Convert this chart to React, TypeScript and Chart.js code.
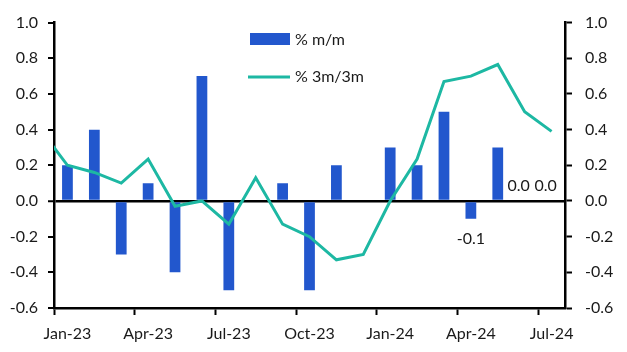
import React, { useEffect, useRef } from 'react';
import { Chart, registerables } from 'chart.js';

Chart.register(...registerables);

// Dec-22 is only used so the 3m/3m line enters from the left edge (clipped)
const months = [
  'Dec-22',
  'Jan-23', 'Feb-23', 'Mar-23', 'Apr-23', 'May-23', 'Jun-23', 'Jul-23', 'Aug-23', 'Sep-23', 'Oct-23', 'Nov-23', 'Dec-23',
  'Jan-24', 'Feb-24', 'Mar-24', 'Apr-24', 'May-24', 'Jun-24', 'Jul-24',
];
const momValues = [
  null,
  0.2, 0.4, -0.3, 0.1, -0.4, 0.7, -0.5, 0.0, 0.1, -0.5, 0.2, 0.0,
  0.3, 0.2, 0.5, -0.1, 0.3, 0.0, 0.0,
];
const threeMValues = [
  0.4,
  0.2, 0.16, 0.1, 0.235, -0.03, 0.0, -0.13, 0.13, -0.13, -0.2, -0.33, -0.3,
  0.0, 0.235, 0.67, 0.7, 0.765, 0.5, 0.39,
];
const labelledMonths = ['Apr-24', 'Jun-24', 'Jul-24'];
const quarterPrefixes = ['Jan', 'Apr', 'Jul', 'Oct'];

const BAR_COLOR = '#2257CD';
const LINE_COLOR = '#1DB8A3';
const TEXT_COLOR = '#1a1a1a';
const FONT = '16px Lato';

const legendPlugin = {
  id: 'customLegend',
  afterDraw(chart: any) {
    const ctx = chart.ctx;
    const ds = chart.data.datasets;
    const bar = ds.find((d: any) => d.type === 'bar');
    const line = ds.find((d: any) => d.type === 'line');
    ctx.save();
    ctx.font = FONT;
    ctx.fillStyle = TEXT_COLOR;
    ctx.textBaseline = 'middle';
    ctx.textAlign = 'left';
    // bar item
    ctx.fillStyle = bar.backgroundColor;
    ctx.fillRect(250, 33, 40, 12);
    ctx.fillStyle = TEXT_COLOR;
    ctx.fillText(bar.label, 295, 40);
    // line item
    ctx.strokeStyle = line.borderColor;
    ctx.lineWidth = 3;
    ctx.beginPath();
    ctx.moveTo(248, 77);
    ctx.lineTo(290, 77);
    ctx.stroke();
    ctx.fillText(line.label, 295, 77);
    ctx.restore();
  },
};

const valueLabelPlugin = {
  id: 'valueLabels',
  afterDatasetsDraw(chart: any) {
    const ctx = chart.ctx;
    const idx = chart.data.datasets.findIndex((d: any) => d.type === 'bar');
    const meta = chart.getDatasetMeta(idx);
    const yScale = chart.scales.y;
    ctx.save();
    ctx.font = FONT;
    ctx.fillStyle = TEXT_COLOR;
    ctx.textAlign = 'center';
    ctx.textBaseline = 'middle';
    labelledMonths.forEach((m) => {
      const i = months.indexOf(m);
      const v = momValues[i] as number;
      const el = meta.data[i];
      if (!el) return;
      const yEnd = yScale.getPixelForValue(v);
      if (v < 0) {
        ctx.fillText(v.toFixed(1), el.x, yEnd + 20);
      } else {
        ctx.fillText(v.toFixed(1), el.x - 6, yEnd - 15.5);
      }
    });
    ctx.restore();
  },
};

const isZero = (v: number) => Math.abs(v) < 1e-9;

export default function App() {
  const canvasRef = useRef<HTMLCanvasElement | null>(null);

  useEffect(() => {
    const canvas = canvasRef.current;
    if (!canvas) return;
    const chart = new Chart(canvas, {
      data: {
        labels: months,
        datasets: [
          {
            type: 'line',
            label: '% 3m/3m',
            data: threeMValues,
            borderColor: LINE_COLOR,
            backgroundColor: LINE_COLOR,
            borderWidth: 3,
            pointRadius: 0,
            tension: 0,
            order: 1,
            clip: 0,
          } as any,
          {
            type: 'bar',
            label: '% m/m',
            data: momValues,
            backgroundColor: BAR_COLOR,
            borderWidth: 0,
            barPercentage: 1,
            categoryPercentage: 0.4,
            order: 2,
          } as any,
        ],
      },
      options: {
        responsive: false,
        animation: false,
        layout: { padding: { top: 15, left: 0, right: 0, bottom: 0 } },
        plugins: {
          legend: { display: false },
          tooltip: { enabled: false },
        },
        scales: {
          x: {
            type: 'category',
            min: 'Jan-23',
            offset: true,
            grid: {
              offset: true,
              drawOnChartArea: false,
              drawTicks: true,
              tickLength: 7,
              tickWidth: 2,
              tickColor: (c: any) => (c.tick && c.index % 3 === 0 ? '#000' : 'rgba(0,0,0,0)'),
            },
            border: { color: '#000', width: 2.5 },
            ticks: {
              autoSkip: false,
              maxRotation: 0,
              minRotation: 0,
              padding: 9,
              color: TEXT_COLOR,
              font: { family: 'Lato', size: 16 },
              callback: (v: any) => {
                const l = months[v];
                return quarterPrefixes.some((p) => l.startsWith(p)) ? l : '';
              },
            },
            afterFit: (s: any) => {
              s.height = 44;
            },
          },
          y: {
            position: 'left',
            min: -0.6,
            max: 1.0,
            grid: {
              drawOnChartArea: true,
              color: (c: any) => (c.tick && isZero(c.tick.value) ? '#000' : 'rgba(0,0,0,0)'),
              lineWidth: (c: any) => (c.tick && isZero(c.tick.value) ? 2.5 : 0),
              tickColor: '#000',
              tickWidth: 2,
              tickLength: 6,
            },
            border: { color: '#000', width: 2.5 },
            ticks: {
              stepSize: 0.2,
              padding: 10,
              color: TEXT_COLOR,
              font: { family: 'Lato', size: 16 },
              callback: (v: any) => Number(v).toFixed(1),
            },
            afterFit: (s: any) => {
              s.width = 54;
            },
          },
          y2: {
            position: 'right',
            min: -0.6,
            max: 1.0,
            grid: {
              drawOnChartArea: false,
              tickColor: '#000',
              tickWidth: 2,
              tickLength: 7,
            },
            border: { color: '#000', width: 2.5 },
            ticks: {
              stepSize: 0.2,
              padding: 13,
              color: TEXT_COLOR,
              font: { family: 'Lato', size: 16 },
              callback: (v: any) => Number(v).toFixed(1),
            },
            afterFit: (s: any) => {
              s.width = 62;
            },
          },
        },
      } as any,
      plugins: [legendPlugin, valueLabelPlugin],
    });
    return () => chart.destroy();
  }, []);

  return (
    <div style={{ position: 'fixed', left: 0, top: 0, width: 627, height: 352, background: '#fff' }}>
      <canvas ref={canvasRef} width={627} height={352} style={{ display: 'block' }} />
    </div>
  );
}
